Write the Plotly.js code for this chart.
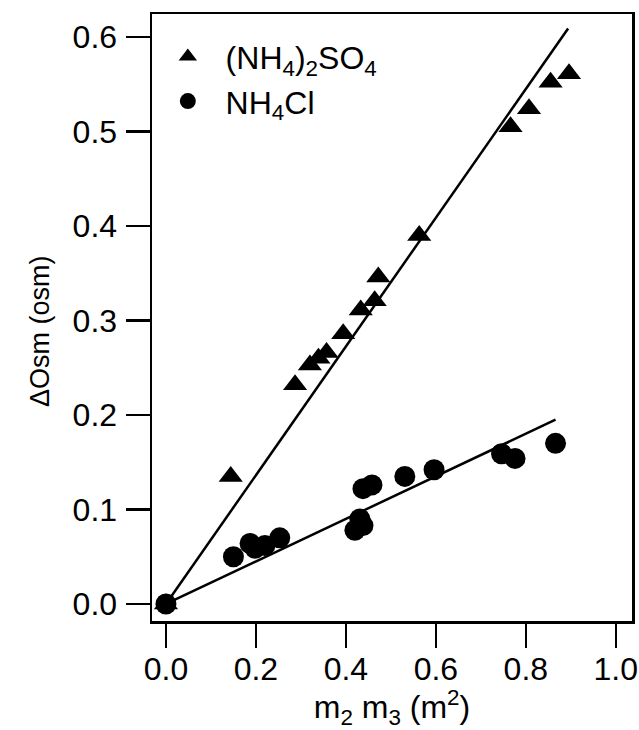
<!DOCTYPE html>
<html>
<head>
<meta charset="utf-8">
<script src="https://cdn.plot.ly/plotly-3.0.1.min.js"></script>
<style>html,body{margin:0;padding:0;background:#fff;}#chart{width:639px;height:730px;}</style>
</head>
<body>
<div id="chart"></div>
<script>
// (NH4)2SO4 measurements
var sulfateX = [0, 0.144, 0.287, 0.320, 0.339, 0.357, 0.394, 0.433, 0.464, 0.472, 0.563, 0.766, 0.807, 0.855, 0.896];
var sulfateY = [0, 0.135, 0.232, 0.253, 0.260, 0.266, 0.286, 0.311, 0.321, 0.346, 0.390, 0.505, 0.524, 0.552, 0.561];
// NH4Cl measurements
var chlorideX = [0, 0.150, 0.187, 0.198, 0.220, 0.253, 0.420, 0.431, 0.438, 0.438, 0.458, 0.531, 0.596, 0.746, 0.776, 0.866];
var chlorideY = [0, 0.050, 0.064, 0.059, 0.062, 0.070, 0.078, 0.090, 0.083, 0.122, 0.126, 0.135, 0.142, 0.159, 0.154, 0.170];
// linear fits
var sulfateFitX = [0, 0.894];
var sulfateFitY = [0, 0.609];
var chlorideFitX = [0, 0.866];
var chlorideFitY = [0, 0.195];
// axis ticks
var xTicks = [0, 0.2, 0.4, 0.6, 0.8, 1.0];
var xTickText = ["0.0", "0.2", "0.4", "0.6", "0.8", "1.0"];
var yTicks = [0, 0.1, 0.2, 0.3, 0.4, 0.5, 0.6];
var yTickText = ["0.0", "0.1", "0.2", "0.3", "0.4", "0.5", "0.6"];

var FONT = "'Liberation Sans', Arial, Helvetica, sans-serif";

var data = [
  {x: sulfateFitX, y: sulfateFitY, mode: "lines", line: {color: "#000", width: 2.5}, showlegend: false, hoverinfo: "skip"},
  {x: chlorideFitX, y: chlorideFitY, mode: "lines", line: {color: "#000", width: 2.5}, showlegend: false, hoverinfo: "skip"},
  {x: sulfateX, y: sulfateY, mode: "markers", name: "&nbsp;&nbsp;(NH<sub>4</sub>)<sub>2</sub>SO<sub>4</sub>",
   marker: {symbol: "triangle-up", size: 21, color: "#000"}},
  {x: chlorideX, y: chlorideY, mode: "markers", name: "&nbsp;&nbsp;NH<sub>4</sub>Cl",
   marker: {symbol: "circle", size: 21, color: "#000"}}
];

var axisCommon = {
  showgrid: false, zeroline: false, showline: true, mirror: true,
  linecolor: "#000", linewidth: 2.5, ticks: "outside", ticklen: 24, tickwidth: 2.5,
  tickcolor: "#000", tickfont: {family: FONT, size: 32, color: "#000"}
};

var layout = {
  width: 639, height: 730,
  margin: {l: 152, r: 7, t: 14, b: 109},
  paper_bgcolor: "#fff", plot_bgcolor: "#fff",
  font: {family: FONT, color: "#000"},
  xaxis: Object.assign({}, axisCommon, {
    range: [-0.031, 1.036], tickvals: xTicks, ticktext: xTickText, ticklabelstandoff: -6,
    title: {text: "m<sub>2</sub> m<sub>3</sub> (m<sup>2</sup>)", font: {family: FONT, size: 32, color: "#000"}, standoff: 2}
  }),
  yaxis: Object.assign({}, axisCommon, {
    range: [-0.018, 0.6243], tickvals: yTicks, ticktext: yTickText, ticklabelstandoff: 2
  }),
  annotations: [{
    text: "ΔOsm (osm)", xref: "paper", yref: "paper", x: -0.233, y: 0.478,
    xanchor: "center", yanchor: "middle", textangle: -90, showarrow: false,
    font: {family: FONT, size: 27, color: "#000"}
  }],
  showlegend: true,
  legend: {x: 0.033, y: 0.975, xanchor: "left", yanchor: "top", bgcolor: "rgba(0,0,0,0)",
           font: {family: FONT, size: 32, color: "#000"}, itemsizing: "trace", tracegroupgap: 0}
};

Plotly.newPlot("chart", data, layout, {displayModeBar: false, staticPlot: true});
</script>
</body>
</html>
